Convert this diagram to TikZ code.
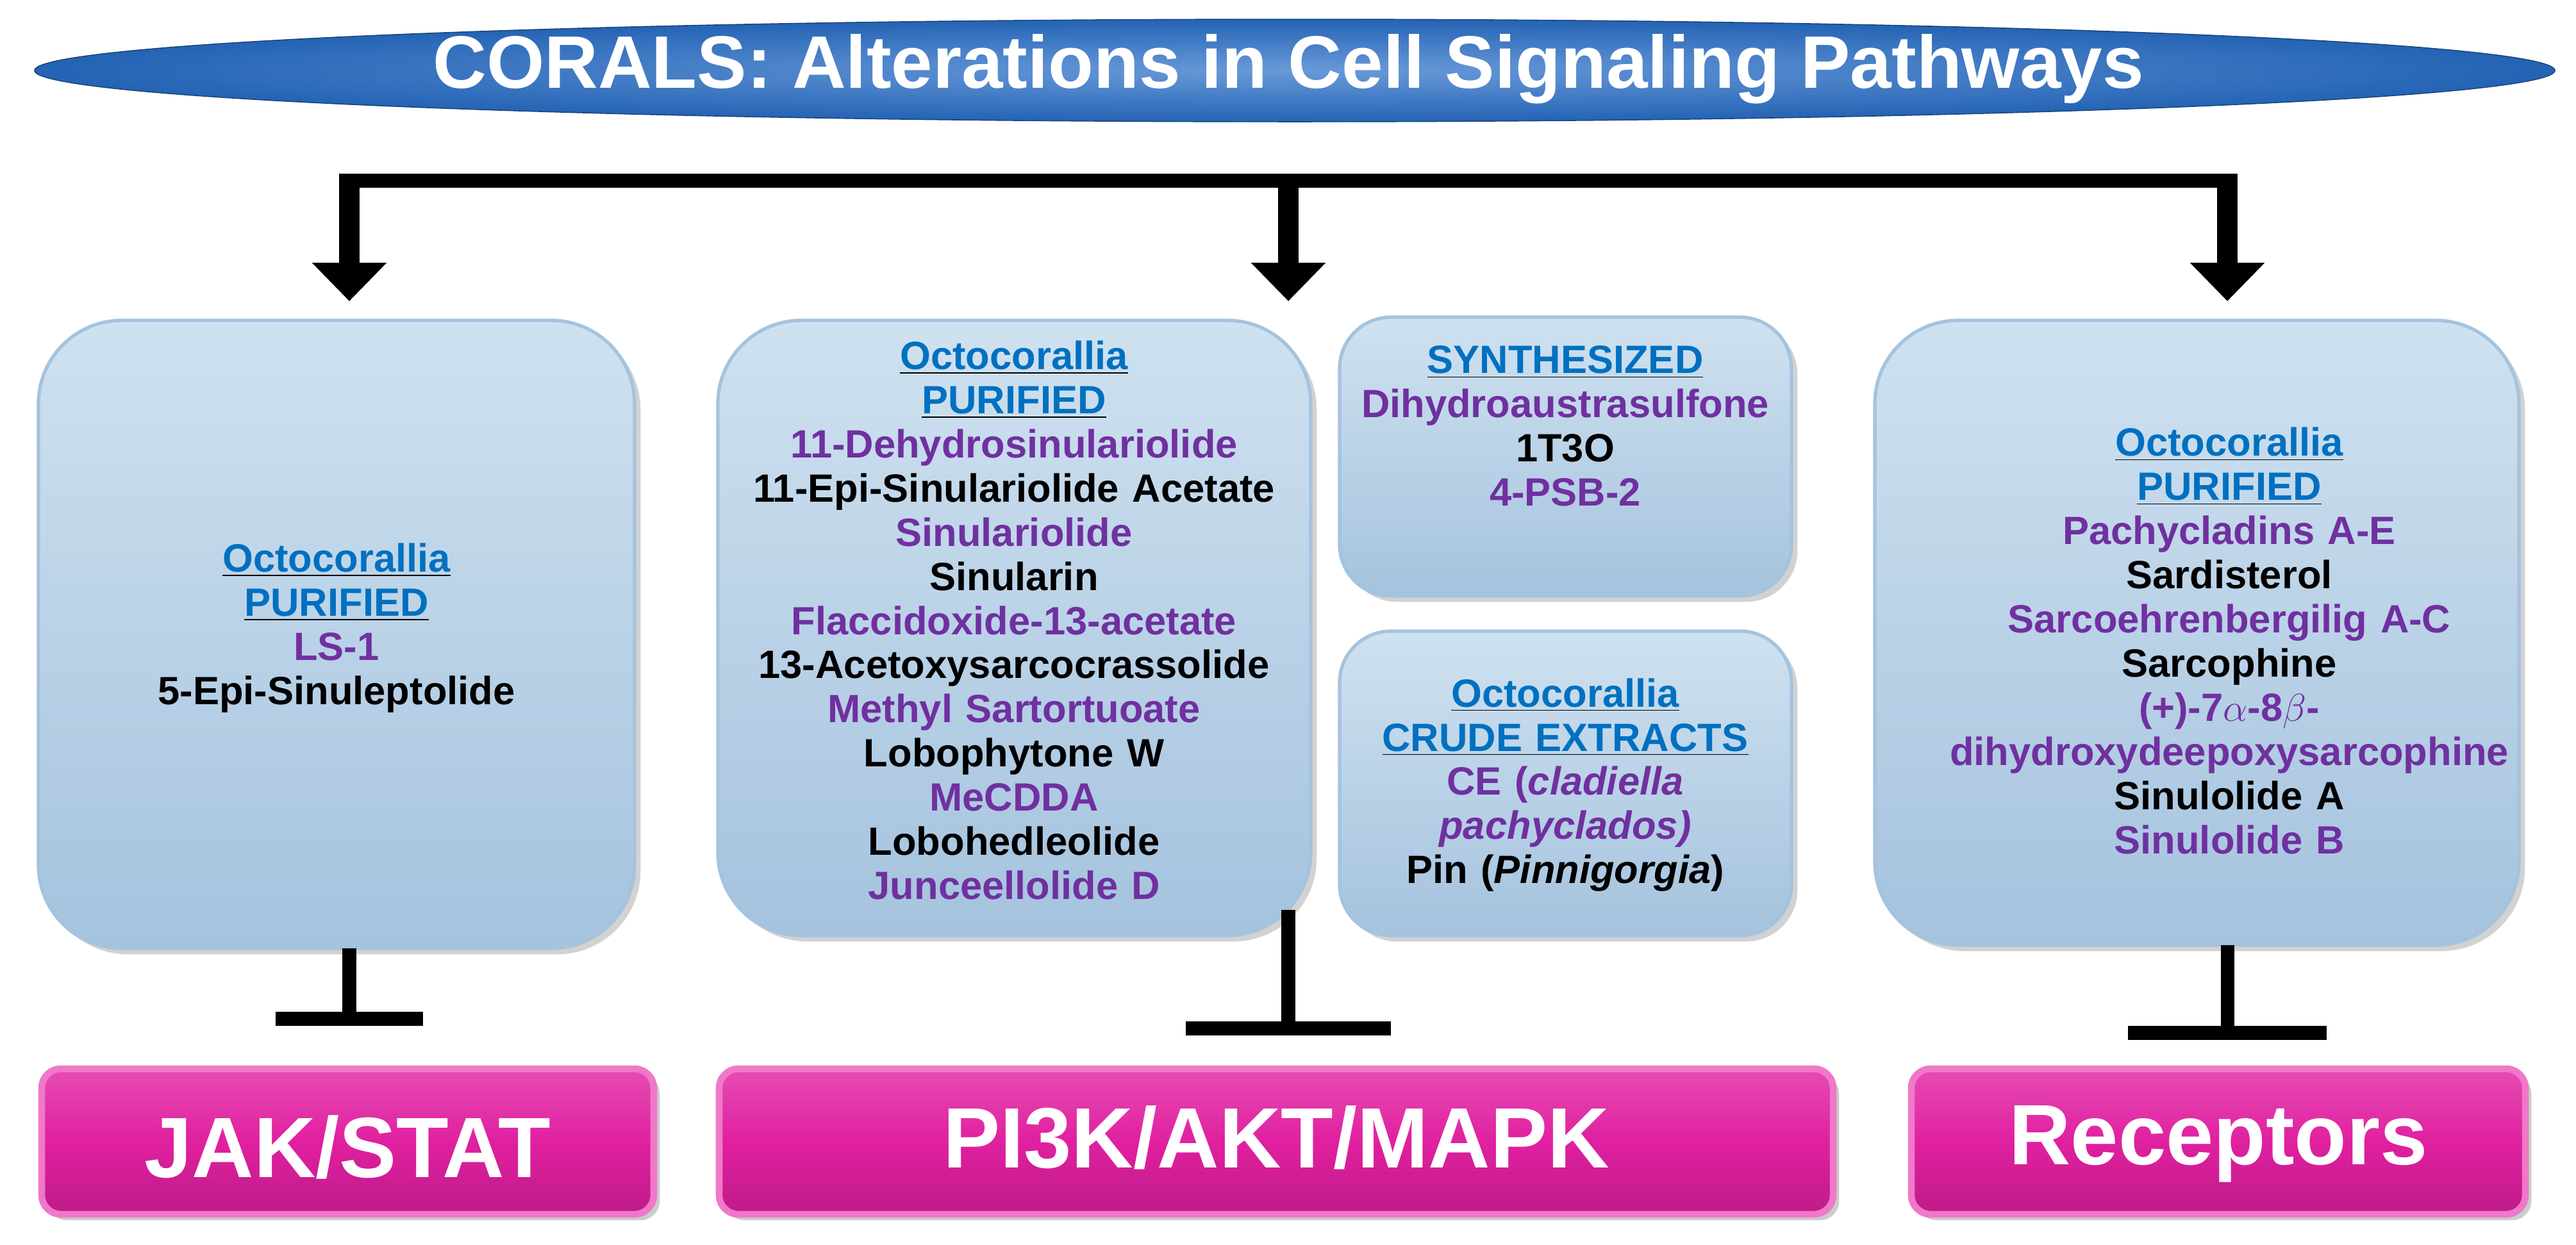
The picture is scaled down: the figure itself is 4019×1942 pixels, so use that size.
\documentclass[tikz,border=0pt]{standalone}
\usepackage{fontspec}
\setmainfont{Liberation Sans}
\usetikzlibrary{arrows.meta,shadows,shapes.geometric}
\definecolor{pur}{RGB}{112,48,160}
\definecolor{lnk}{RGB}{0,112,192}
\definecolor{boxf}{RGB}{195,218,236}
\definecolor{boxd}{RGB}{165,195,222}
\definecolor{mag}{RGB}{224,32,160}
\definecolor{magl}{RGB}{240,120,200}
\definecolor{ttl}{RGB}{40,110,200}
\begin{document}
\begin{tikzpicture}[x=0.01cm,y=-0.01cm,
  cbox/.style={draw=boxd,line width=1.5pt,top color=boxf!80!white,bottom color=boxd,rounded corners=1.3cm,drop shadow={opacity=0.35}},
  sbox/.style={cbox,rounded corners=0.8cm},
  mbox/.style={draw=magl,line width=3pt,top color=mag!80!white,bottom color=mag!85!black,middle color=mag,rounded corners=0.3cm,drop shadow={opacity=0.4}},
  lbl/.style={font=\fontsize{17.5}{19.6}\selectfont\bfseries,align=center,text width=11cm},
  big/.style={font=\fontsize{38}{42}\selectfont\bfseries,text=white},
  bar/.style={line width=6pt},
  arr/.style={line width=9pt,-{Triangle[width=32pt,length=17pt]}},
  tbar/.style={line width=6pt}]
\useasboundingbox (0,0) rectangle (4019,1942);
\fill[white] (0,0) rectangle (4019,1942);
% title
\node[ellipse,minimum width=39.3cm,minimum height=1.6cm,inner color=ttl!70!white,outer color=ttl!90!black,draw=ttl!60!black] (title) at (2020,110) {};
\node[font=\fontsize{33}{36}\selectfont\bfseries,text=white] (tt) at (2010,108) {CORALS: Alterations in Cell Signaling Pathways};
% connectors
\coordinate (c1) at (545,282); \coordinate (c2) at (2010,282); \coordinate (c3) at (3475,282);
\coordinate (a1) at (545,470); \coordinate (a2) at (2010,470); \coordinate (a3) at (3475,470);
\draw[bar] ([xshift=-4.5pt]c1) -- ([xshift=4.5pt]c3);
\draw[arr] (c1) -- (a1);
\draw[arr] (c2) -- (a2);
\draw[arr] (c3) -- (a3);
% boxes
\draw[cbox] (60,500) rectangle (990,1480);
\draw[cbox] (1120,500) rectangle (2045,1460);
\draw[sbox] (2090,495) rectangle (2795,930);
\draw[sbox] (2090,985) rectangle (2795,1460);
\draw[cbox] (2925,500) rectangle (3930,1475);
\node[lbl] (t1) at (525,980) {\underline{\textcolor{lnk}{Octocorallia}}\\ \underline{\textcolor{lnk}{PURIFIED}}\\ \textcolor{pur}{LS-1}\\ 5-Epi-Sinuleptolide};
\node[lbl] (t2) at (1582,968) {\underline{\textcolor{lnk}{Octocorallia}}\\ \underline{\textcolor{lnk}{PURIFIED}}\\ \textcolor{pur}{11-Dehydrosinulariolide}\\ 11-Epi-Sinulariolide Acetate\\ \textcolor{pur}{Sinulariolide}\\ Sinularin\\ \textcolor{pur}{Flaccidoxide-13-acetate}\\ 13-Acetoxysarcocrassolide\\ \textcolor{pur}{Methyl Sartortuoate}\\ Lobophytone W\\ \textcolor{pur}{MeCDDA}\\ Lobohedleolide\\ \textcolor{pur}{Junceellolide D}};
\node[lbl] (t3) at (2442,665) {\underline{\textcolor{lnk}{SYNTHESIZED}}\\ \textcolor{pur}{Dihydroaustrasulfone}\\ 1T3O\\ \textcolor{pur}{4-PSB-2}};
\node[lbl] (t4) at (2442,1225) {\underline{\textcolor{lnk}{Octocorallia}}\\ \underline{\textcolor{lnk}{CRUDE EXTRACTS}}\\ \textcolor{pur}{CE (\textit{cladiella}}\\ \textcolor{pur}{\textit{pachyclados)}}\\ Pin (\textit{Pinnigorgia})};
\node[lbl] (t5) at (3478,1000) {\underline{\textcolor{lnk}{Octocorallia}}\\ \underline{\textcolor{lnk}{PURIFIED}}\\ \textcolor{pur}{Pachycladins A-E}\\ Sardisterol\\ \textcolor{pur}{Sarcoehrenbergilig A-C}\\ Sarcophine\\ \textcolor{pur}{(+)-7$\alpha$-8$\beta$-}\\ \textcolor{pur}{dihydroxydeepoxysarcophine}\\ Sinulolide A\\ \textcolor{pur}{Sinulolide B}};
% T bars
\coordinate (b1) at (545,1480); \coordinate (e1) at (545,1590);
\coordinate (b2) at (2010,1420); \coordinate (e2) at (2010,1605);
\coordinate (b3) at (3475,1475); \coordinate (e3) at (3475,1612);
\draw[tbar] (b1) -- (e1); \draw[tbar] (430,1590) -- (660,1590);
\draw[tbar] (b2) -- (e2); \draw[tbar] (1850,1605) -- (2170,1605);
\draw[tbar] (b3) -- (e3); \draw[tbar] (3320,1612) -- (3630,1612);
% bottom boxes
\draw[mbox] (65,1668) rectangle (1020,1895);
\draw[mbox] (1122,1668) rectangle (2860,1895);
\draw[mbox] (2982,1668) rectangle (3940,1895);
\node[big] (m1) at (542,1790) {JAK/STAT};
\node[big] (m2) at (1991,1775) {PI3K/AKT/MAPK};
\node[big] (m3) at (3461,1785) {Receptors};
\end{tikzpicture}
\end{document}
